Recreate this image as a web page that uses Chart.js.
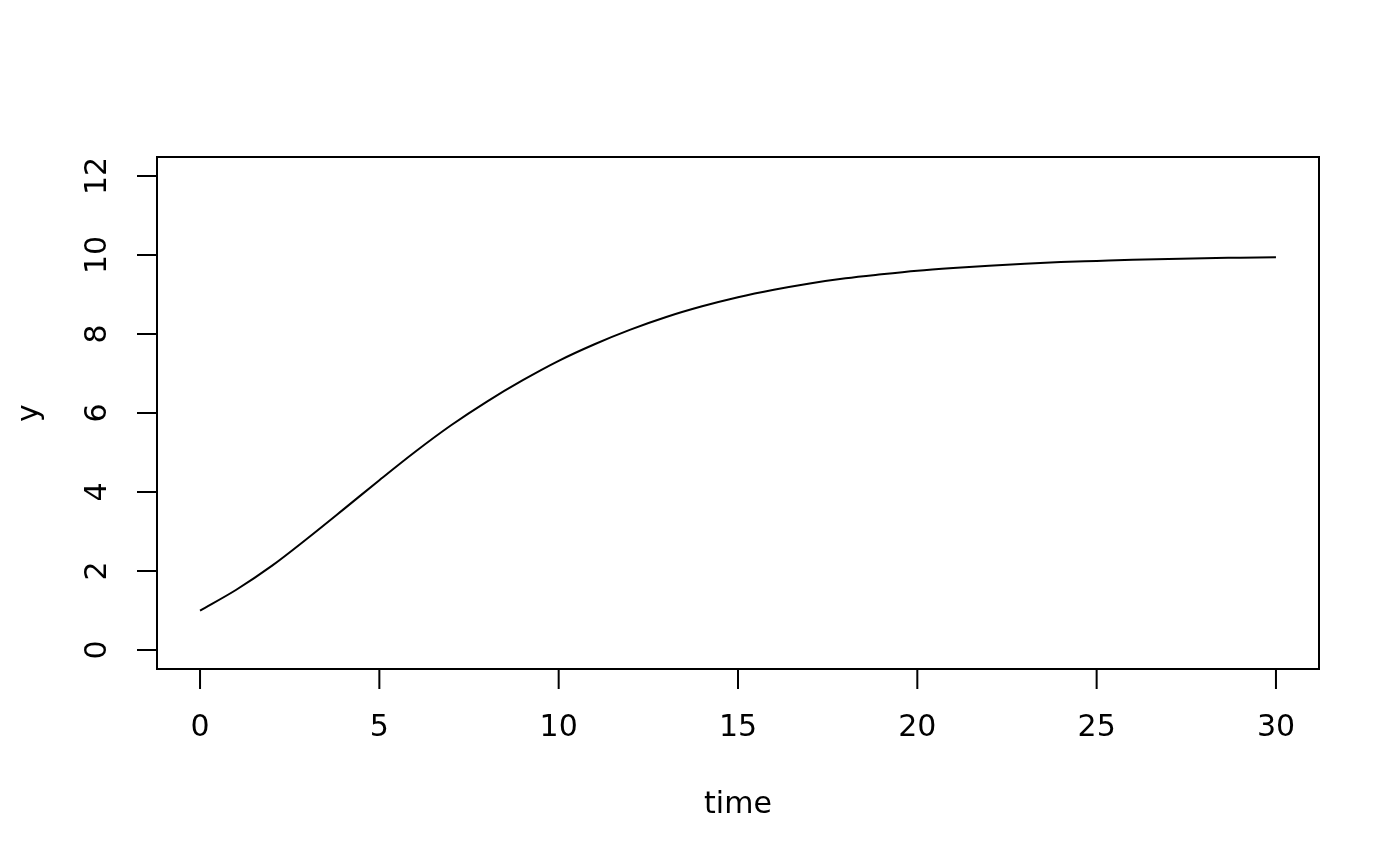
<!DOCTYPE html>
<html>
<head>
<meta charset="utf-8">
<script src="https://cdn.jsdelivr.net/npm/chart.js@4"></script>
<style>
  html, body { margin: 0; padding: 0; background: #ffffff; }
</style>
</head>
<body>
<canvas id="chart" width="1400" height="866"></canvas>
<script>
// values
const time = [0, 1, 2, 3, 4, 5, 6, 7, 8, 9, 10, 11, 12, 13, 14, 15, 16, 17, 18, 19, 20, 21, 22, 23, 24, 25, 26, 27, 28, 29, 30];
const yValues = [1.00, 1.52, 2.13, 2.83, 3.56, 4.30, 5.02, 5.69, 6.29, 6.83, 7.32, 7.74, 8.11, 8.43, 8.70, 8.93, 9.12, 9.28, 9.41, 9.51, 9.60, 9.67, 9.73, 9.78, 9.82, 9.85, 9.88, 9.90, 9.92, 9.93, 9.94];
const xTicks = [0, 5, 10, 15, 20, 25, 30];
const yTicks = [0, 2, 4, 6, 8, 10, 12];
const xTitle = 'time';
const yTitle = 'y';

const FONT = '30px "DejaVu Sans", sans-serif';

// draws the R style box, ticks and labels
const rAxes = {
    id: 'rAxes',
    afterDraw(chart) {
        const ctx = chart.ctx;
        const area = chart.chartArea;
        const xs = chart.scales.x;
        const ys = chart.scales.y;
        ctx.save();
        ctx.strokeStyle = '#000';
        ctx.fillStyle = '#000';
        ctx.lineWidth = 2;

        // box
        ctx.strokeRect(area.left, area.top, area.right - area.left, area.bottom - area.top);

        // x axis
        const x0 = xs.getPixelForValue(xTicks[0]);
        const x1 = xs.getPixelForValue(xTicks[xTicks.length - 1]);
        ctx.beginPath();
        ctx.moveTo(x0, area.bottom);
        ctx.lineTo(x1, area.bottom);
        xTicks.forEach(v => {
            const px = xs.getPixelForValue(v);
            ctx.moveTo(px, area.bottom);
            ctx.lineTo(px, area.bottom + 20);
        });
        ctx.stroke();
        ctx.font = FONT;
        ctx.textAlign = 'center';
        ctx.textBaseline = 'middle';
        xTicks.forEach(v => {
            ctx.fillText(String(v), xs.getPixelForValue(v), area.bottom + 59);
        });
        ctx.fillText(xTitle, (area.left + area.right) / 2, area.bottom + 136);

        // y axis
        const y0 = ys.getPixelForValue(yTicks[0]);
        const y1 = ys.getPixelForValue(yTicks[yTicks.length - 1]);
        ctx.beginPath();
        ctx.moveTo(area.left, y0);
        ctx.lineTo(area.left, y1);
        yTicks.forEach(v => {
            const py = ys.getPixelForValue(v);
            ctx.moveTo(area.left, py);
            ctx.lineTo(area.left - 20, py);
        });
        ctx.stroke();
        yTicks.forEach(v => {
            ctx.save();
            ctx.translate(area.left - 59, ys.getPixelForValue(v));
            ctx.rotate(-Math.PI / 2);
            ctx.fillText(String(v), 0, 0);
            ctx.restore();
        });
        ctx.save();
        ctx.translate(area.left - 127, (area.top + area.bottom) / 2);
        ctx.rotate(-Math.PI / 2);
        ctx.fillText(yTitle, 0, 0);
        ctx.restore();

        ctx.restore();
    }
};

const ctx = document.getElementById('chart').getContext('2d');
const chart = new Chart(ctx, {
    type: 'line',
    data: {
        datasets: [{
            label: 'y',
            data: time.map((t, i) => ({ x: t, y: yValues[i] })),
            borderColor: '#000',
            borderWidth: 2,
            pointRadius: 0,
            fill: false,
            cubicInterpolationMode: 'monotone'
        }]
    },
    options: {
        responsive: false,
        animation: false,
        devicePixelRatio: 1,
        layout: {
            padding: { left: 157, right: 81, top: 157, bottom: 197 }
        },
        plugins: {
            legend: { display: false },
            tooltip: { enabled: false }
        },
        scales: {
            x: { type: 'linear', display: false, min: -1.2, max: 31.2 },
            y: { type: 'linear', display: false, min: -0.48, max: 12.48 }
        }
    },
    plugins: [rAxes]
});
</script>
</body>
</html>
